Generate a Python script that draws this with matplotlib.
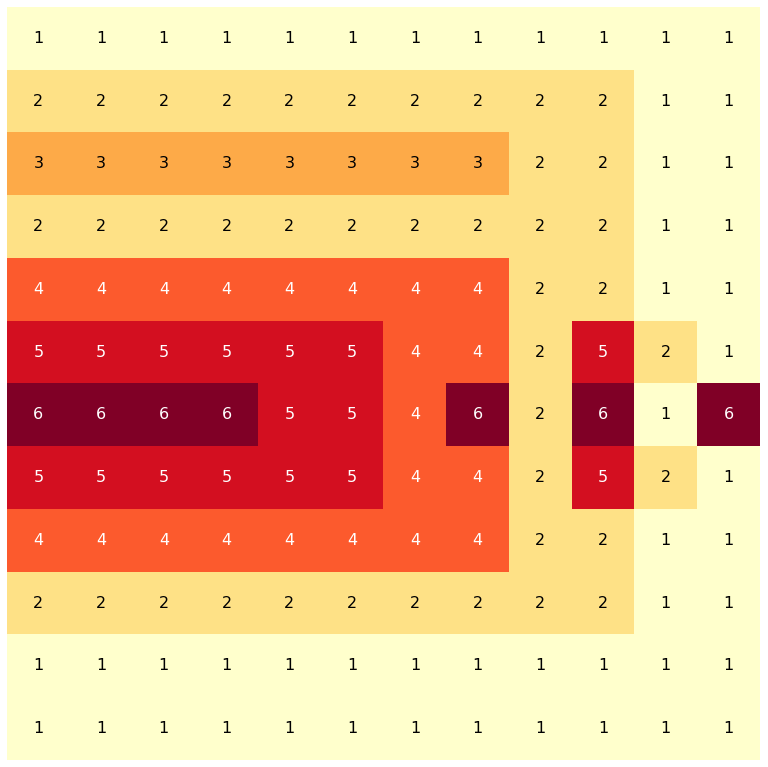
import matplotlib
matplotlib.use("Agg")
import matplotlib.pyplot as plt
import numpy as np

# grid values, row by row from the top
values = np.array([
    [1, 1, 1, 1, 1, 1, 1, 1, 1, 1, 1, 1],
    [2, 2, 2, 2, 2, 2, 2, 2, 2, 2, 1, 1],
    [3, 3, 3, 3, 3, 3, 3, 3, 2, 2, 1, 1],
    [2, 2, 2, 2, 2, 2, 2, 2, 2, 2, 1, 1],
    [4, 4, 4, 4, 4, 4, 4, 4, 2, 2, 1, 1],
    [5, 5, 5, 5, 5, 5, 4, 4, 2, 5, 2, 1],
    [6, 6, 6, 6, 5, 5, 4, 6, 2, 6, 1, 6],
    [5, 5, 5, 5, 5, 5, 4, 4, 2, 5, 2, 1],
    [4, 4, 4, 4, 4, 4, 4, 4, 2, 2, 1, 1],
    [2, 2, 2, 2, 2, 2, 2, 2, 2, 2, 1, 1],
    [1, 1, 1, 1, 1, 1, 1, 1, 1, 1, 1, 1],
    [1, 1, 1, 1, 1, 1, 1, 1, 1, 1, 1, 1],
])

fig = plt.figure(figsize=(7.68, 7.67), dpi=100)
ax = fig.add_axes([7 / 768, 7 / 767, 753 / 768, 753 / 767])
ax.imshow(values, cmap="YlOrRd", vmin=1, vmax=6, aspect="auto",
          interpolation="nearest")

for r in range(values.shape[0]):
    for c in range(values.shape[1]):
        v = values[r, c]
        ax.text(c, r, str(v), ha="center", va="center", fontsize=11.5,
                color="white" if v >= 4 else "black")

ax.axis("off")
fig.savefig("out.png", dpi=100)
